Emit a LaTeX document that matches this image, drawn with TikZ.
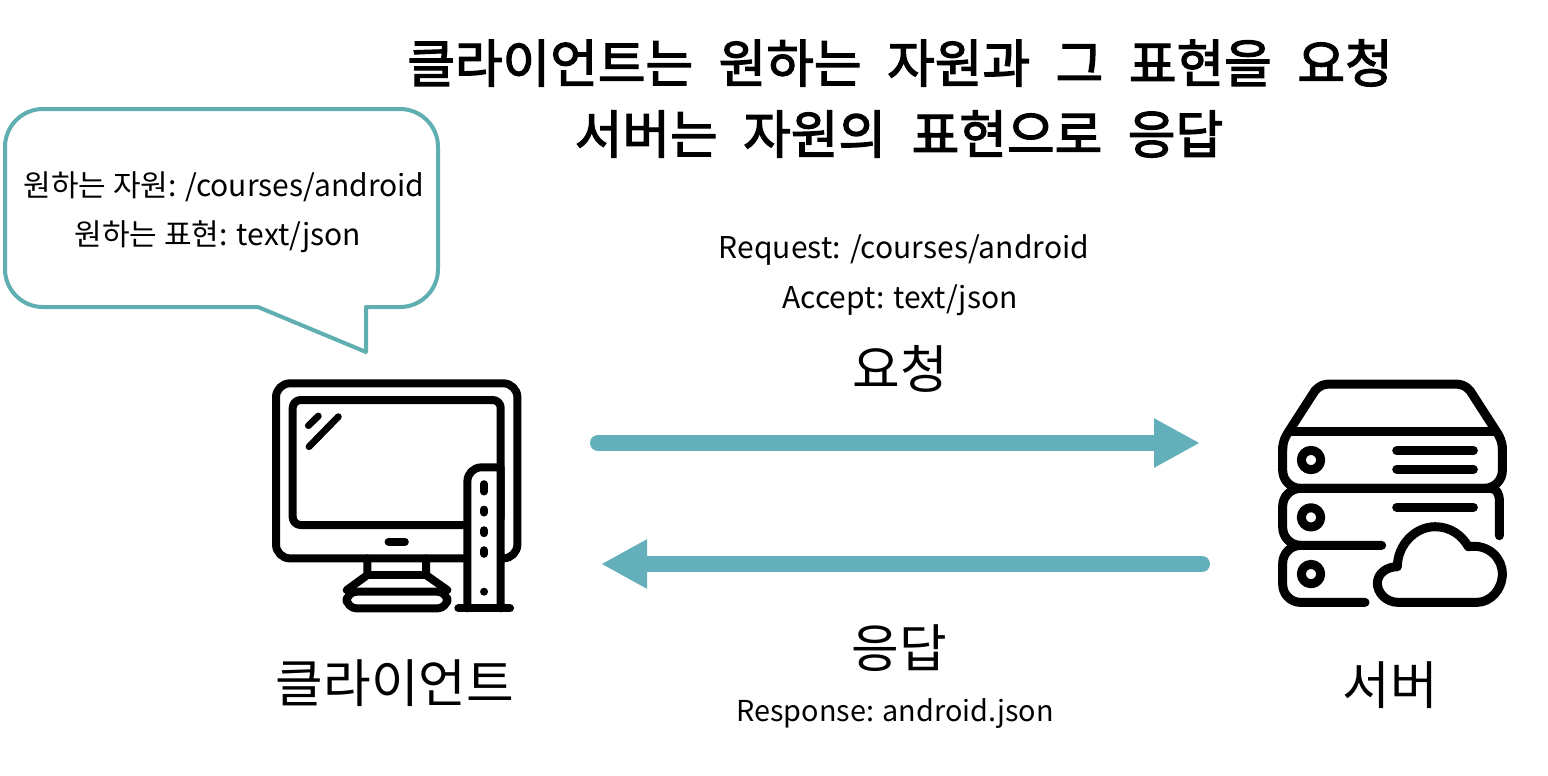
\documentclass[tikz,border=0pt]{standalone}
\usepackage{fontspec}
\usetikzlibrary{arrows.meta}
\setmainfont{Noto Sans CJK KR}
\newfontfamily\wide[WordSpace=2.2]{Noto Sans CJK KR}
\newfontfamily\widebold[WordSpace=2.2,FakeBold=2.4]{Noto Sans CJK KR}
\definecolor{teal1}{HTML}{63B0BB}
\definecolor{teal2}{HTML}{5FAEB0}
\tikzset{
  big/.style={font=\wide\fontsize{25.9}{30}\selectfont,inner sep=0pt,text=black},
  head/.style={font=\widebold\fontsize{25.9}{30}\selectfont,inner sep=0pt,text=black},
  small/.style={font=\fontsize{15}{18}\selectfont,inner sep=0pt,text=black},
  smaller/.style={font=\fontsize{14.4}{18}\selectfont,inner sep=0pt,text=black},
  flow/.style={teal1,line width=8pt,line cap=round,-{Triangle[length=23pt,width=23pt]}},
  ico/.style={black,line width=4pt,line cap=round,line join=round},
  srv/.style={black,line width=4.5pt,line cap=round,line join=round},
  thin/.style={black,line width=3.4pt,line cap=round},
}
\begin{document}
\begin{tikzpicture}[x=0.5pt,y=-0.5pt]
\useasboundingbox (0,0) rectangle (1548,776);
\fill[white] (0,0) rectangle (1548,776);
% Titles
\node[head] (t1) at (900,63) {클라이언트는 원하는 자원과 그 표현을 요청};
\node[head] (t2) at (899,134) {서버는 자원의 표현으로 응답};
% Bubble
\draw[teal2,line width=2pt,line join=round]
  (258,307) -- (366,352) -- (366,307) [rounded corners=19pt] -- (438,307) -- (438,109)
  -- (5,109) -- (5,307) [sharp corners] -- cycle;
\node[small] (b1) at (224,187) {원하는 자원: /courses/android};
\node[small] (b2) at (218,237) {원하는 표현: text/json};
% Labels
\node[small] (r1) at (904,250) {Request: /courses/android};
\node[small] (r2) at (900,300) {Accept: text/json};
\node[big] (req) at (900,369) {요청};
\node[big] (res) at (899,648) {응답};
\node[smaller] (r3) at (895,714) {Response: android.json};
\node[big] (cl) at (395,683) {클라이언트};
\node[big] (sv) at (1390,685) {서버};
% Arrows
\coordinate (a1) at (598,443); \coordinate (a2) at (1200,443);
\coordinate (a3) at (1202,564); \coordinate (a4) at (601,564);
\draw[flow] (a1) -- (a2);
\draw[flow] (a3) -- (a4);
% Client icon (zoom coordinates)
\begin{scope}[shift={(250,360)},x=0.1667pt,y=-0.1667pt]
\draw[ico,rounded corners=7pt] (78,70) rectangle (802,595);
\draw[ico,rounded corners=4pt] (128,120) rectangle (752,495);
\draw[ico] (352,595) -- (352,645) -- (290,690);
\draw[ico] (528,595) -- (528,645) -- (592,690);
\draw[ico] (352,645) -- (528,645);
\draw[ico,rounded corners=5pt] (290,695) -- (592,695) -- (592,745) -- (290,745) -- cycle;
\draw[ico,fill=white] (652,745) [rounded corners=7pt] -- (652,322) [sharp corners] -- (752,322) -- (752,745);
\draw[ico] (625,745) -- (780,745);
\draw[thin] (175,197) -- (205,168);
\draw[thin] (177,260) -- (265,170);
\draw[thin,line width=3.8pt] (415,545) -- (465,545);
\draw[thin,line width=3.8pt] (702,372) -- (702,395);
\draw[thin,line width=3.8pt] (702,448) -- (702,458);
\draw[thin,line width=3.8pt] (702,510) -- (702,520);
\draw[thin,line width=3.8pt] (702,570) -- (702,582);
\fill[black] (702,695) circle[radius=12];
\end{scope}
% Server icon (zoom coordinates)
\begin{scope}[shift={(1260,360)},x=0.1667pt,y=-0.1667pt]
\draw[srv] (68,270) .. controls (68,245) and (75,232) .. (85,216) -- (165,92)
  .. controls (178,78) and (190,72) .. (210,72) -- (585,72)
  .. controls (605,72) and (618,78) .. (630,92) -- (710,216)
  .. controls (720,232) and (727,245) .. (727,270);
\draw[srv] (95,215) -- (700,215);
\draw[srv,rounded corners=9pt] (68,260) -- (68,385) -- (727,385) -- (727,260);
\draw[srv,rounded corners=9pt] (365,556) -- (68,556) -- (68,385) -- (690,385);
\draw[srv] (690,385) .. controls (710,385) and (718,400) .. (718,425) -- (718,527);
\draw[srv,rounded corners=9pt] (315,727) -- (68,727) -- (68,556) -- (100,556);
\foreach \yy in {300,472,642} \draw[srv] (153,\yy) circle[radius=29];
\draw[srv] (410,272) -- (640,272);
\draw[srv] (410,328) -- (640,328);
\draw[srv] (410,442) -- (640,442);
\draw[srv] (650,727) -- (415,727)
  .. controls (375,727) and (352,695) .. (352,670)
  .. controls (352,640) and (380,620) .. (412,620)
  .. controls (412,555) and (465,500) .. (525,500)
  .. controls (570,500) and (605,525) .. (625,560)
  .. controls (690,550) and (727,600) .. (727,640)
  .. controls (727,690) and (690,727) .. (650,727);
\end{scope}
\end{tikzpicture}
\end{document}
